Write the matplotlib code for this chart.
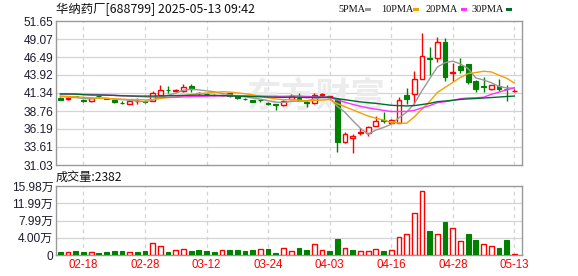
import matplotlib
matplotlib.use("Agg")
import matplotlib.pyplot as plt
from matplotlib.patches import Rectangle

# ---------------- data ----------------
dates = ["02-13", "02-14", "02-17", "02-18", "02-19", "02-20", "02-21", "02-24", "02-25", "02-26",
         "02-27", "02-28", "03-03", "03-04", "03-05", "03-06", "03-07", "03-10", "03-11", "03-12",
         "03-13", "03-14", "03-17", "03-18", "03-19", "03-20", "03-21", "03-24", "03-25", "03-26",
         "03-27", "03-28", "03-31", "04-01", "04-02", "04-03", "04-07", "04-08", "04-09", "04-10",
         "04-11", "04-14", "04-15", "04-16", "04-17", "04-18", "04-21", "04-22", "04-23", "04-24",
         "04-25", "04-28", "04-29", "04-30", "05-06", "05-07", "05-08", "05-09", "05-12", "05-13"]

opens = [40.62, 40.43, 40.85, 40.38, 40.24, 40.92, 40.60, 40.29, 39.92, 39.81,
         40.20, 40.15, 40.20, 41.05, 41.80, 41.62, 41.58, 42.34, 41.28, 41.18,
         41.08, 41.00, 41.30, 40.90, 40.52, 40.34, 40.36, 39.95, 39.77, 39.58,
         40.48, 40.67, 40.10, 39.90, 41.08, 40.82, 40.44, 34.28, 34.90, 35.60,
         35.57, 36.66, 37.45, 37.04, 37.10, 41.05, 41.15, 43.40, 46.30, 46.31,
         48.69, 44.20, 45.21, 45.49, 43.06, 42.30, 41.87, 42.34, 41.92, 41.62]
highs = [40.70, 40.65, 40.95, 40.45, 40.75, 41.05, 40.65, 40.30, 40.20, 40.25,
         40.60, 40.35, 41.67, 42.48, 42.30, 41.90, 42.63, 42.63, 41.50, 41.30,
         41.15, 41.10, 41.40, 40.95, 40.60, 40.40, 40.50, 40.00, 39.80, 40.30,
         41.15, 41.30, 40.15, 41.30, 41.30, 40.95, 40.44, 35.70, 35.40, 36.30,
         36.60, 38.10, 38.60, 37.60, 40.72, 42.10, 44.53, 49.98, 47.97, 49.40,
         49.17, 45.60, 46.31, 45.50, 43.20, 43.60, 42.50, 43.30, 42.48, 41.85]
lows = [40.30, 40.40, 40.70, 40.10, 40.00, 40.70, 40.45, 39.87, 39.80, 39.75,
        39.80, 39.90, 40.20, 41.00, 41.30, 41.60, 41.50, 41.50, 41.10, 41.00,
        40.95, 40.95, 40.75, 40.50, 40.40, 40.05, 40.10, 39.65, 38.90, 39.55,
        40.45, 40.30, 39.30, 39.80, 40.80, 40.60, 32.94, 34.20, 32.80, 35.30,
        35.20, 36.60, 37.10, 36.95, 37.00, 39.72, 39.72, 43.30, 43.92, 45.80,
        43.10, 43.10, 44.16, 42.60, 41.53, 41.53, 41.80, 41.67, 40.24, 41.55]
closes = [40.38, 40.60, 40.80, 40.15, 40.62, 40.88, 40.55, 40.05, 39.87, 40.20,
          40.25, 40.10, 41.30, 41.77, 41.75, 41.70, 42.24, 41.87, 41.33, 41.13,
          41.03, 41.06, 40.87, 40.58, 40.48, 40.10, 40.32, 39.72, 39.58, 40.20,
          40.95, 40.34, 39.85, 41.10, 41.12, 40.82, 34.28, 35.47, 35.20, 35.70,
          36.47, 37.33, 37.35, 37.47, 40.34, 40.48, 43.35, 46.64, 46.15, 48.64,
          43.67, 44.40, 44.63, 42.87, 41.91, 42.20, 42.44, 41.96, 41.85, 41.67]

# volume in 万 (10k shares)
volumes = [0.70, 0.70, 0.93, 0.70, 0.70, 0.46, 0.70, 0.93, 0.93, 0.70,
           0.70, 0.93, 2.71, 2.09, 0.70, 1.08, 1.31, 0.93, 1.08, 0.93,
           0.77, 1.08, 1.16, 1.16, 0.93, 1.16, 1.31, 1.39, 0.46, 1.55,
           0.85, 1.58, 1.16, 2.47, 1.05, 0.93, 3.71, 1.55, 1.25, 0.88,
           0.90, 1.31, 0.93, 1.08, 4.10, 4.79, 9.66, 14.76, 5.56, 4.79,
           7.65, 6.18, 3.17, 4.87, 3.48, 2.47, 2.01, 1.62, 3.48, 0.24]
vol_up = [0, 1, 0, 0, 1, 0, 0, 0, 0, 1,
          0, 0, 1, 1, 0, 1, 1, 0, 0, 0,
          0, 1, 0, 0, 0, 0, 1, 0, 0, 1,
          1, 0, 0, 1, 1, 0, 0, 1, 0, 1,
          1, 1, 0, 1, 1, 1, 1, 1, 0, 1,
          0, 1, 1, 0, 0, 1, 1, 0, 0, 1]

ma5 = [40.85, 40.75, 40.70, 40.55, 40.51, 40.61, 40.60, 40.45, 40.39, 40.31,
       40.18, 40.09, 40.34, 40.72, 41.03, 41.32, 41.75, 41.87, 41.78, 41.65,
       41.52, 41.28, 41.08, 40.93, 40.80, 40.62, 40.47, 40.24, 40.04, 39.98,
       40.15, 40.16, 40.18, 40.49, 40.67, 40.65, 39.43, 38.56, 37.38, 36.29,
       35.42, 36.03, 36.41, 36.86, 37.79, 38.59, 39.80, 41.66, 43.39, 45.05,
       45.69, 45.90, 45.50, 44.84, 43.50, 43.20, 42.81, 42.28, 42.07, 42.02]
ma10 = [40.90, 40.85, 40.80, 40.72, 40.65, 40.60, 40.55, 40.50, 40.45, 40.41,
        40.40, 40.35, 40.40, 40.56, 40.67, 40.75, 40.92, 41.11, 41.25, 41.34,
        41.42, 41.52, 41.48, 41.36, 41.23, 41.07, 40.88, 40.66, 40.49, 40.39,
        40.39, 40.31, 40.21, 40.26, 40.33, 40.40, 39.80, 39.37, 38.93, 38.48,
        38.04, 37.73, 37.48, 37.12, 37.04, 37.01, 37.92, 39.03, 40.13, 41.42,
        42.14, 42.85, 43.58, 44.12, 44.27, 44.45, 44.36, 43.89, 43.46, 42.76]
ma20 = [41.20, 41.20, 41.18, 41.15, 41.13, 41.10, 41.05, 41.00, 40.95, 40.90,
        40.85, 40.80, 40.75, 40.72, 40.72, 40.74, 40.78, 40.82, 40.85, 40.88,
        40.91, 40.93, 40.94, 40.96, 40.95, 40.91, 40.90, 40.88, 40.87, 40.87,
        40.90, 40.92, 40.84, 40.81, 40.78, 40.73, 40.34, 40.02, 39.71, 39.44,
        39.21, 39.02, 38.85, 38.69, 38.69, 38.70, 38.86, 39.20, 39.53, 39.95,
        40.09, 40.29, 40.53, 40.62, 40.66, 40.73, 41.14, 41.46, 41.79, 42.09]
ma30 = [41.20, 41.20, 41.18, 41.10, 41.05, 41.05, 41.03, 41.00, 40.95, 40.92,
        40.90, 40.90, 40.90, 40.92, 40.95, 40.97, 41.00, 41.02, 41.03, 41.02,
        41.00, 40.97, 40.93, 40.88, 40.85, 40.82, 40.80, 40.77, 40.73, 40.72,
        40.74, 40.73, 40.69, 40.73, 40.74, 40.74, 40.53, 40.38, 40.22, 40.07,
        39.95, 39.86, 39.72, 39.58, 39.53, 39.49, 39.53, 39.69, 39.85, 40.10,
        40.19, 40.30, 40.42, 40.50, 40.55, 40.62, 40.69, 40.76, 40.84, 40.90]

price_ticks = [31.03, 33.61, 36.19, 38.76, 41.34, 43.92, 46.49, 49.07, 51.65]
price_tick_labels = ["31.03", "33.61", "36.19", "38.76", "41.34", "43.92", "46.49", "49.07", "51.65"]
vol_ticks = [0, 4.00, 7.99, 11.99, 15.98]
vol_tick_labels = ["0", "4.00万", "7.99万", "11.99万", "15.98万"]
date_ticks = ["02-18", "02-28", "03-12", "03-24", "04-03", "04-16", "04-28", "05-13"]

title_text = "华纳药厂[688799] 2025-05-13 09:42"
vol_label = "成交量:2382"
ma_names = ["5PMA", "10PMA", "20PMA", "30PMA"]

# ---------------- style ----------------
RED = "#ff0000"
GREEN = "#008000"
MA_COLORS = ["#999999", "#f5a000", "#ff33ff", "#006b2e"]
GRID = "#d4d4d4"
SPINE = "#999999"
TXT = "#1c1c30"
NUM_FONT = ["Liberation Sans", "Noto Sans CJK SC"]
CJK_FONT = ["Noto Sans CJK SC", "DejaVu Sans"]

W, H = 578, 276
fig = plt.figure(figsize=(W / 100, H / 100), dpi=100)
fig.patch.set_facecolor("white")

def px_axes(l, t, r, b):
    return fig.add_axes([l / W, 1 - b / H, (r - l) / W, (b - t) / H])

axp = px_axes(56, 21, 522, 165)
axv = px_axes(56, 186, 522, 255)

n = len(dates)
xs = list(range(n))
xlim = (-0.57, 60.0)
bw = 0.62

for ax in (axp, axv):
    ax.set_xlim(*xlim)
    ax.set_facecolor("white")
    for s in ax.spines.values():
        s.set_color(SPINE)
        s.set_linewidth(1.0)
    ax.tick_params(length=0, pad=2)
    ax.set_axisbelow(True)
    tick_pos = [dates.index(d) for d in date_ticks]
    for tp in tick_pos:
        ax.axvline(tp, color=GRID, lw=0.9, ls=(0, (3, 3)), zorder=0)
    ax.set_xticks(tick_pos)

# watermark
axp.text(0.56, 0.48, "东方财富", transform=axp.transAxes, fontsize=25,
         family=CJK_FONT, fontweight="bold", color="#ececec", ha="center",
         va="center", zorder=0.5)

# price axes
axp.set_ylim(31.03, 51.65)
axp.set_yticks(price_ticks)
axp.set_yticklabels(price_tick_labels, family=NUM_FONT, fontsize=8.6, color=TXT)
for yv in price_ticks[1:-1]:
    axp.axhline(yv, color=GRID, lw=0.9, zorder=0)
axp.set_xticklabels([])

for i in xs:
    o, h, l, c = opens[i], highs[i], lows[i], closes[i]
    up = c >= o
    col = RED if up else GREEN
    top, bot = max(o, c), min(o, c)
    body = max(top - bot, 0.06)
    if up:
        axp.plot([i, i], [top, h], color=col, lw=1.0, zorder=3, solid_capstyle="butt")
        axp.plot([i, i], [l, bot], color=col, lw=1.0, zorder=3, solid_capstyle="butt")
        axp.add_patch(Rectangle((i - bw / 2, bot), bw, body, facecolor="white",
                                edgecolor=col, lw=1.0, zorder=3))
    else:
        axp.plot([i, i], [l, h], color=col, lw=1.0, zorder=3, solid_capstyle="butt")
        axp.add_patch(Rectangle((i - bw / 2, bot), bw, body, facecolor=col,
                                edgecolor=col, lw=0.8, zorder=3))

for series, colr in zip([ma5, ma10, ma20, ma30], MA_COLORS):
    axp.plot(xs, series, color=colr, lw=1.0, zorder=4)

# volume axes
axv.set_ylim(0, 15.98)
axv.set_yticks(vol_ticks)
axv.set_yticklabels(vol_tick_labels, family=NUM_FONT, fontsize=8.6, color=TXT)
for yv in vol_ticks[1:-1]:
    axv.axhline(yv, color=GRID, lw=0.9, zorder=0)
axv.set_xticklabels(date_ticks, family=NUM_FONT, fontsize=8.3, color=RED)
axv.tick_params(axis="x", pad=3)

for i in xs:
    col = RED if vol_up[i] else GREEN
    if vol_up[i]:
        axv.bar(i, volumes[i], width=bw, facecolor="white", edgecolor=col, lw=1.0, zorder=3)
    else:
        axv.bar(i, volumes[i], width=bw, facecolor=col, edgecolor=col, lw=0.8, zorder=3)

# texts
fig.text(56 / W, 1 - 9.5 / H, title_text, family=CJK_FONT, fontsize=8.9,
         color="#111111", ha="left", va="center")
fig.text(56 / W, 1 - 177.5 / H, vol_label, family=CJK_FONT, fontsize=8.7,
         color="#111111", ha="left", va="center")

legend_x = [338, 381, 426, 471]
dash_x = [365, 413, 461, 506]
for name, lx, dx, colr in zip(ma_names, legend_x, dash_x, MA_COLORS):
    fig.text(lx / W, 1 - 9.5 / H, name, family=["Liberation Serif"], fontsize=7.4,
             color="#111111", ha="left", va="center")
    fig.patches.append(Rectangle((dx / W, 1 - 11 / H), 6 / W, 3 / H,
                                 transform=fig.transFigure, facecolor=colr,
                                 edgecolor="none", figure=fig))

fig.savefig("out.png", dpi=100, facecolor="white")
